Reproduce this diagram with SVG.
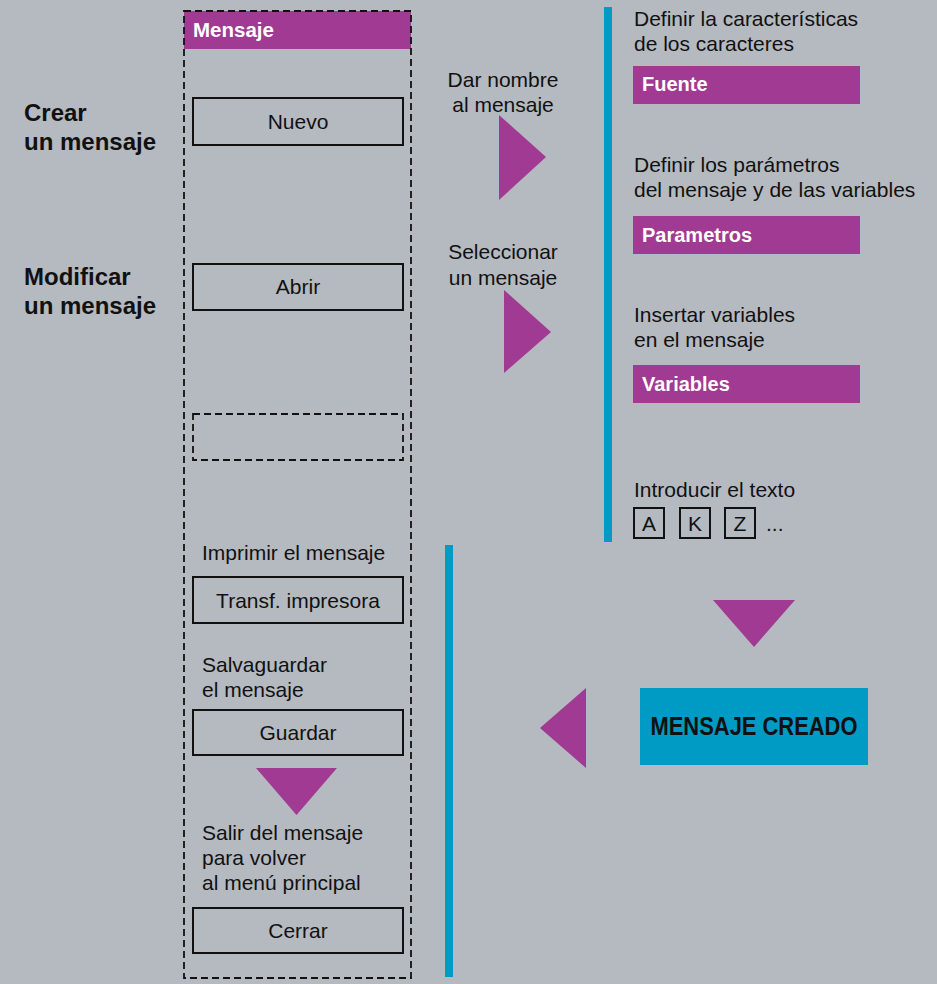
<svg xmlns="http://www.w3.org/2000/svg" width="937" height="984" viewBox="0 0 937 984">
<style>
.t{font-family:"Liberation Sans",Arial,sans-serif;font-size:21px;fill:#111}
.c{text-anchor:middle}
.lbl{font-family:"Liberation Sans",Arial,sans-serif;font-size:24px;font-weight:bold;fill:#111}
.w{font-family:"Liberation Sans",Arial,sans-serif;font-size:20px;font-weight:bold;fill:#fff}
.box{fill:none;stroke:#111;stroke-width:2}
.dash{fill:none;stroke:#111;stroke-width:1.8;stroke-dasharray:7,4}
.pur{fill:#a03a92}
.blue{fill:#009bc4}
</style>
<rect width="937" height="984" fill="#b5b9c0"/>
<g id="labels">
<text class="lbl" x="24" y="121">Crear</text>
<text class="lbl" x="24" y="150">un mensaje</text>
<text class="lbl" x="24" y="285">Modificar</text>
<text class="lbl" x="24" y="314">un mensaje</text>
</g>
<g id="menu">
<rect class="pur" x="184" y="11" width="227" height="38"/>
<rect class="dash" x="184" y="11" width="227" height="967"/>
<text class="w" x="193" y="37" style="font-size:20.5px">Mensaje</text>
</g>
<g id="nuevo"><rect class="box" x="193" y="98" width="210" height="47"/><text class="t c" x="298" y="129">Nuevo</text></g>
<g id="abrir"><rect class="box" x="193" y="264" width="210" height="46"/><text class="t c" x="298" y="294">Abrir</text></g>
<g id="empty"><rect class="dash" x="193" y="414" width="210" height="46"/></g>
<g id="imprimir"><text class="t" x="202" y="560">Imprimir el mensaje</text><rect class="box" x="193" y="577" width="210" height="46"/><text class="t c" x="298" y="608">Transf. impresora</text></g>
<g id="guardar"><text class="t" x="202" y="672">Salvaguardar</text><text class="t" x="202" y="697">el mensaje</text><rect class="box" x="193" y="710" width="210" height="45"/><text class="t c" x="298" y="740">Guardar</text></g>
<g id="cerrar"><text class="t" x="202" y="840">Salir del mensaje</text><text class="t" x="202" y="865">para volver</text><text class="t" x="202" y="890">al menú principal</text><rect class="box" x="193" y="908" width="210" height="45"/><text class="t c" x="298" y="938">Cerrar</text></g>
<g id="connectors">
<polygon class="pur" points="256,768 337,768 296.5,815"/>
<polygon class="pur" points="499,115 546,157 499,200"/>
<polygon class="pur" points="504,290 551,332 504,373"/>
<polygon class="pur" points="713,600 795,600 754,647"/>
<polygon class="pur" points="586,688 586,768 540,728"/>
<rect class="blue" x="604" y="7" width="8" height="535"/>
<rect class="blue" x="445" y="545" width="8" height="432"/>
</g>
<g id="mid">
<text class="t c" x="503" y="87">Dar nombre</text>
<text class="t c" x="503" y="112">al mensaje</text>
<text class="t c" x="503" y="259">Seleccionar</text>
<text class="t c" x="503" y="285">un mensaje</text>
</g>
<g id="fuente"><text class="t" x="634" y="26">Definir la características</text><text class="t" x="634" y="51">de los caracteres</text><rect class="pur" x="633" y="66" width="227" height="38"/><text class="w" x="642" y="91">Fuente</text></g>
<g id="parametros"><text class="t" x="634" y="172">Definir los parámetros</text><text class="t" x="634" y="197">del mensaje y de las variables</text><rect class="pur" x="633" y="216" width="227" height="38"/><text class="w" x="642" y="242">Parametros</text></g>
<g id="variables"><text class="t" x="634" y="322">Insertar variables</text><text class="t" x="634" y="347">en el mensaje</text><rect class="pur" x="633" y="365" width="227" height="38"/><text class="w" x="642" y="391">Variables</text></g>
<g id="texto"><text class="t" x="634" y="497">Introducir el texto</text>
<rect class="box" x="634" y="508" width="30" height="30"/><text class="t c" x="649" y="531">A</text>
<rect class="box" x="680" y="508" width="30" height="30"/><text class="t c" x="695" y="531">K</text>
<rect class="box" x="725" y="508" width="30" height="30"/><text class="t c" x="740" y="531">Z</text>
<text class="t" x="766" y="531">...</text></g>
<g id="creado"><rect class="blue" x="640" y="688" width="228" height="77"/><text class="lbl c" x="754" y="735" style="font-size:25px" textLength="207" lengthAdjust="spacingAndGlyphs">MENSAJE CREADO</text></g>
</svg>
